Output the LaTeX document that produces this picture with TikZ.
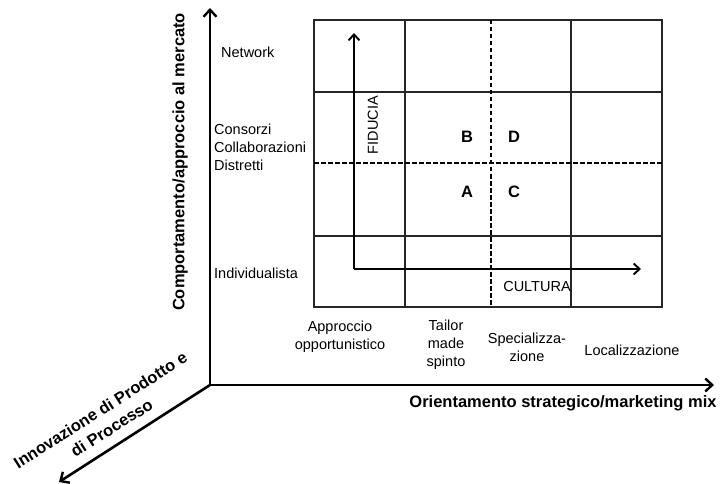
\documentclass[tikz,border=0pt]{standalone}
\usepackage{fontspec}
\setmainfont{Liberation Sans}
\usetikzlibrary{arrows.meta}
\tikzset{
  axis/.style={line width=2.6pt,-{Straight Barb[length=7pt,width=13pt,line width=2.4pt]}},
  inaxis/.style={line width=2pt,-{Straight Barb[length=6pt,width=11pt,line width=1.9pt]}},
  gridl/.style={line width=1.1pt,draw=black!85},
  dashl/.style={line width=1.4pt,dashed,dash pattern=on 4.5pt off 2.5pt},
  lbl/.style={font=\fontsize{14.5}{18}\selectfont,inner sep=0pt},
  blbl/.style={font=\fontsize{16.5}{19}\selectfont\bfseries,inner sep=0pt},
}
\begin{document}
\begin{tikzpicture}[x=1pt,y=-1pt]
\useasboundingbox (0,0) rectangle (723,484);
% grid
\coordinate (g1) at (314,20);
\coordinate (g2) at (662,307);
\draw[gridl] (g1) rectangle (g2);
\draw[gridl] (405,20) -- (405,307);
\draw[gridl] (571,20) -- (571,307);
\draw[gridl] (314,92) -- (662,92);
\draw[gridl] (314,236) -- (662,236);
\draw[dashl] (491,20) -- (491,307);
\draw[dashl] (314,163) -- (662,163);
% inner axes
\coordinate (io) at (354,269);
\coordinate (iy) at (354,33);
\coordinate (ix) at (641,269);
\draw[inaxis] (io) -- (iy);
\draw[inaxis] (io) -- (ix);
\node[lbl,rotate=90] (fid) at (373,125) {FIDUCIA};
\node[lbl] (cul) at (537,287) {CULTURA};
\node[blbl] (B) at (467,137) {B};
\node[blbl] (D) at (514,137) {D};
\node[blbl] (A) at (467,192) {A};
\node[blbl] (C) at (514,192) {C};
% main axes
\coordinate (O) at (210,385);
\coordinate (Y) at (210,8);
\coordinate (X) at (714,385);
\coordinate (Z) at (59,482);
\draw[axis] (O) -- (Y);
\draw[axis] (O) -- (X);
\draw[axis] (O) -- (Z);
\node[blbl,rotate=90] (ylab) at (180,162) {Comportamento/approccio al mercato};
\node[blbl] (xlab) at (563,403) {Orientamento strategico/marketing mix};
\node[font=\fontsize{16.5}{21}\selectfont\bfseries,inner sep=0pt,rotate=32.5,align=center] (zlab) at (106,419) {Innovazione di Prodotto e\\di Processo};
% left labels
\node[lbl,anchor=west] (net) at (221,52) {Network};
\node[lbl,anchor=west,align=left] (cons) at (214,147) {Consorzi\\Collaborazioni\\Distretti};
\node[lbl,anchor=west] (ind) at (214,273) {Individualista};
% bottom labels
\node[lbl,align=center] (b1) at (340,337) {Approccio\\opportunistico};
\node[lbl,align=center] (b2) at (446,345) {Tailor\\made\\spinto};
\node[lbl,align=center] (b3) at (527,347) {Specializza-\\zione};
\node[lbl] (b4) at (632,350) {Localizzazione};
\end{tikzpicture}
\end{document}
